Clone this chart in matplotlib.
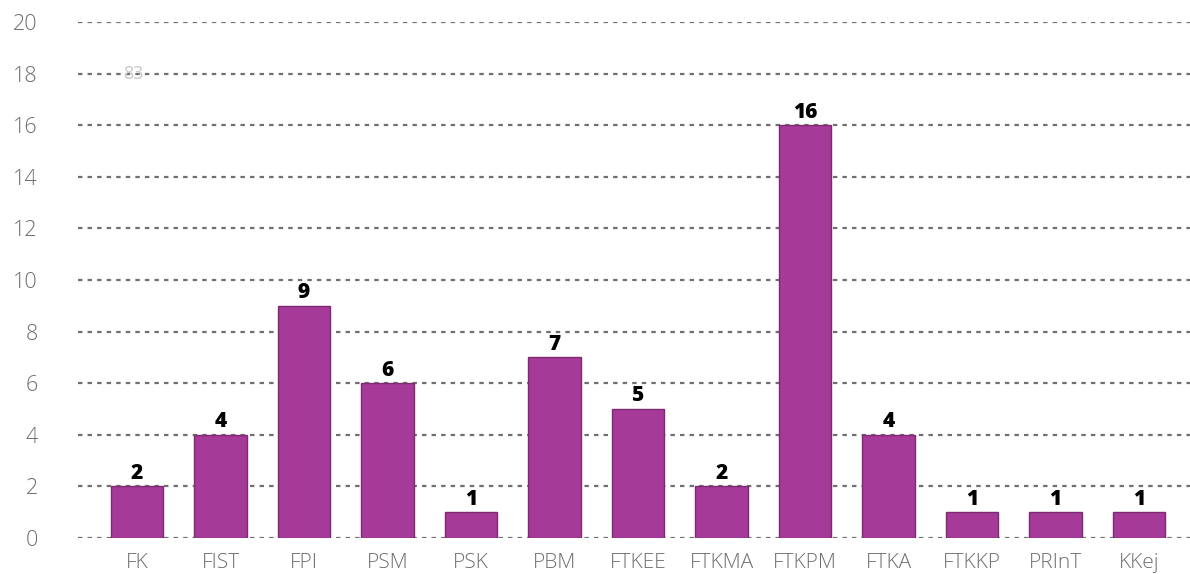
import matplotlib
matplotlib.use("Agg")
import matplotlib.pyplot as plt
import numpy as np

categories = ["FK", "FIST", "FPI", "PSM", "PSK", "PBM", "FTKEE", "FTKMA",
              "FTKPM", "FTKA", "FTKKP", "PRInT", "KKej"]
counts = [2, 4, 9, 6, 1, 7, 5, 2, 16, 4, 1, 1, 1]
y_ticks = [0, 2, 4, 6, 8, 10, 12, 14, 16, 18, 20]

bar_color = "#A63A99"
edge_color = "#7E2A73"
grid_color = "#707070"
tick_color = "#6E6E6E"

fig = plt.figure(figsize=(11.9, 5.74), dpi=100)
ax = fig.add_axes([0.0655, 0.0627, 0.9345, 0.899])

x = np.arange(len(categories))
bars = ax.bar(x, counts, width=0.63, color=bar_color, edgecolor=edge_color,
              linewidth=1.0, zorder=3)

for xi, val in zip(x, counts):
    ax.text(xi, val + 0.1, str(val), ha="center", va="bottom",
            fontsize=15, fontweight="heavy", color="black",
            family="Open Sans", zorder=4)

# faint stray label near the top-left
ax.text(-0.04, 18.0, "83", ha="center", va="center", fontsize=13,
        color="#C8C8C8", family="Open Sans", zorder=4)

ax.set_xlim(-0.707, 12.61)
ax.set_ylim(0, 20)
ax.set_yticks(y_ticks)
ax.set_xticks(x)
ax.set_xticklabels(categories)

for yv in y_ticks:
    ax.axhline(yv, color=grid_color, linewidth=1.6, linestyle=(0, (2, 2.3)), zorder=1)

for s in ax.spines.values():
    s.set_visible(False)

ax.tick_params(axis="both", length=0)
ax.tick_params(axis="y", pad=29, labelsize=15.5, labelcolor=tick_color)
ax.tick_params(axis="x", pad=11, labelsize=15, labelcolor=tick_color)
for lab in ax.get_yticklabels() + ax.get_xticklabels():
    lab.set_family("Open Sans")
    lab.set_fontweight("light")

fig.savefig("out.png", dpi=100)
